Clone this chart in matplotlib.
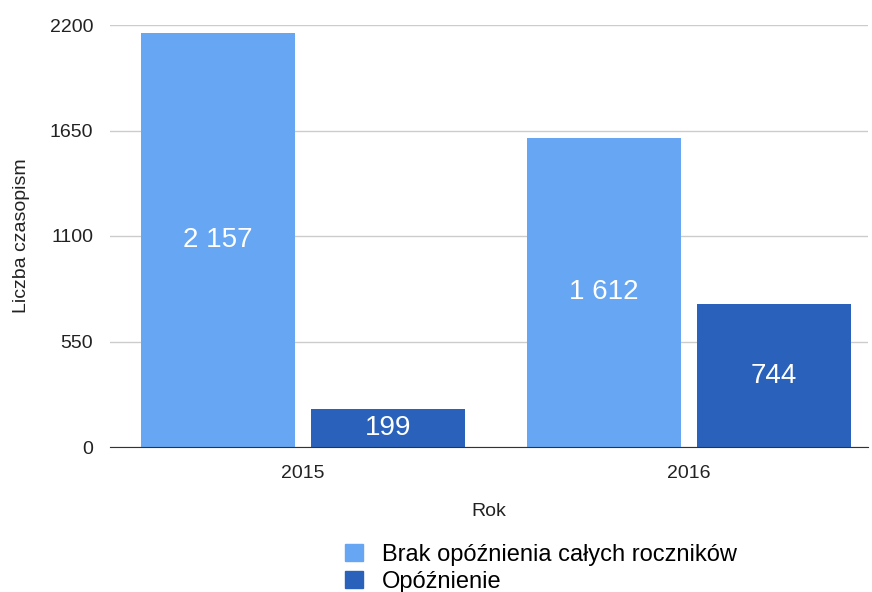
import matplotlib
matplotlib.use("Agg")
import matplotlib.pyplot as plt
import numpy as np
from matplotlib.patches import Patch

plt.rcParams['font.family'] = ['Liberation Sans', 'DejaVu Sans']

years = ["2015", "2016"]
series_names = ["Brak opóźnienia całych roczników", "Opóźnienie"]
brak = [2157, 1612]
opoz = [199, 744]
yticks = [0, 550, 1100, 1650, 2200]
colors = ["#66a6f2", "#2a62bb"]

fig = plt.figure(figsize=(8.72, 5.92), dpi=100)
ax = fig.add_axes([110/872, 1-447/592, 758/872, 422/592])

x = np.arange(len(years))
w = 0.40
off = 0.22
series = [brak, opoz]
for i, (vals, c) in enumerate(zip(series, colors)):
    pos = x + (off if i else -off)
    bars = ax.bar(pos, vals, width=w, color=c, zorder=3)
    for b, v in zip(bars, vals):
        s = f"{v:,}".replace(",", " ")
        ax.text(b.get_x() + b.get_width()/2, v/2, s, ha='center', va='center',
                color='white', fontsize=20, zorder=4)

ax.set_xlim(-0.5, 1.464)
ax.set_ylim(0, 2200)
ax.set_yticks(yticks)
ax.set_yticklabels([str(t) for t in yticks], fontsize=14, color='#222222')
ax.set_xticks(x)
ax.set_xticklabels(years, fontsize=14, color='#222222')
ax.tick_params(axis='y', length=0, pad=12)
ax.tick_params(axis='x', length=0, pad=13)
ax.grid(axis='y', color='#cccccc', linewidth=1, zorder=0)
for sp in ['top', 'right', 'left']:
    ax.spines[sp].set_visible(False)
ax.spines['bottom'].set_color('#333333')
ax.spines['bottom'].set_zorder(5)
ax.set_xlabel("Rok", fontsize=14, color='#222222')
ax.xaxis.set_label_coords(0.5, -(511-447)/422)
ax.xaxis.label.set_va('center')
ax.set_ylabel("Liczba czasopism", fontsize=14, color='#222222')
ax.yaxis.set_label_coords((21-110)/758, 0.5)
ax.yaxis.label.set_va('center')

handles = [Patch(color=c) for c in colors]
fig.legend(handles, series_names, loc='upper left', bbox_to_anchor=(345/872, 1-544/592),
           frameon=False, fontsize=17, handlelength=0.75, handleheight=0.75,
           handletextpad=0.8, labelspacing=0.2, borderaxespad=0, borderpad=0)

fig.savefig("out.png", dpi=100)
